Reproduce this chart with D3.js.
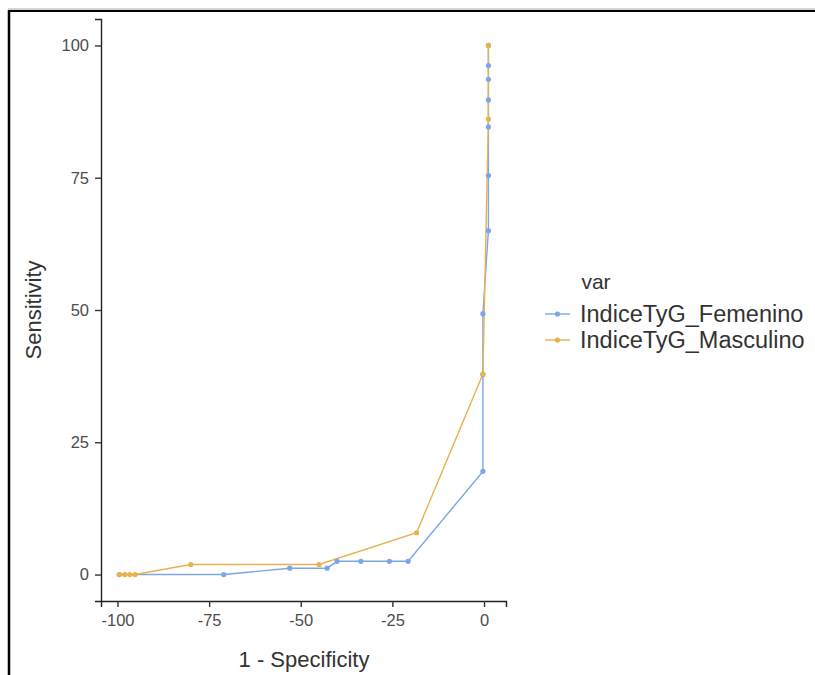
<!DOCTYPE html>
<html>
<head>
<meta charset="utf-8">
<script src="https://cdn.jsdelivr.net/npm/d3@7"></script>
<style>
	body { margin: 0; background: #fff; }
	svg { display: block; font-family: "Liberation Sans", Arial, sans-serif; }
</style>
</head>
<body>
<svg width="815" height="675"></svg>
<script>

// series names
var seriesNames = ["IndiceTyG_Femenino", "IndiceTyG_Masculino"];
var seriesColors = ["#7ba6e8", "#e8b24e"];

// Femenino: 1 - specificity, sensitivity
var femX = [-99.5, -71, -53, -42.8, -40.1, -33.6, -25.8, -20.7, -0.3, -0.3, -0.3, 1.2, 1.2, 1.2, 1.2, 1.2, 1.2, 1.2];
var femY = [0, 0, 1.2, 1.2, 2.5, 2.5, 2.5, 2.5, 19.5, 37.8, 49.3, 65, 75.4, 84.6, 89.7, 93.6, 96.2, 100];

// Masculino
var masX = [-99.5, -98, -96.6, -95.2, -80, -45, -18.4, -0.3, 1.2, 1.2];
var masY = [0, 0, 0, 0, 1.9, 1.9, 7.9, 37.9, 86.1, 100];

var xTicks = [-100, -75, -50, -25, 0];
var yTicks = [0, 25, 50, 75, 100];

var svg = d3.select("svg");

// frame from the screenshot
svg.append("line").attr("x1", 8).attr("x2", 815).attr("y1", 9).attr("y2", 9)
	.attr("stroke", "#aaa").attr("stroke-width", 1);
svg.append("line").attr("x1", 8).attr("x2", 815).attr("y1", 11).attr("y2", 11)
	.attr("stroke", "#000").attr("stroke-width", 2);
svg.append("line").attr("x1", 9).attr("x2", 9).attr("y1", 10).attr("y2", 675)
	.attr("stroke", "#000").attr("stroke-width", 2.5);

var x = d3.scaleLinear().domain([-104.5, 6]).range([101, 506]);
var y = d3.scaleLinear().domain([-5, 105]).range([601, 19]);

var data = [
	femX.map(function (d, i) { return {x: d, y: femY[i]}; }),
	masX.map(function (d, i) { return {x: d, y: masY[i]}; })
];

// axes
var fmt = function (d) { return String(d); };
var xAxis = svg.append("g")
	.attr("transform", "translate(0,601)")
	.call(d3.axisBottom(x).tickValues(xTicks).tickFormat(fmt).tickSize(6).tickPadding(7));
var yAxis = svg.append("g")
	.attr("transform", "translate(101,0)")
	.call(d3.axisLeft(y).tickValues(yTicks).tickFormat(fmt).tickSize(6).tickPadding(6));

[xAxis, yAxis].forEach(function (a) {
	a.select(".domain").attr("stroke", "#222").attr("stroke-width", 1.4);
	a.selectAll(".tick line").attr("stroke", "#333").attr("stroke-width", 1.4);
	a.selectAll(".tick text").attr("fill", "#4d4d4d").style("font-size", "16.5px");
});

svg.append("text")
	.attr("x", 304).attr("y", 667)
	.attr("text-anchor", "middle")
	.attr("fill", "#333")
	.style("font-size", "22px")
	.text("1 - Specificity");

svg.append("text")
	.attr("transform", "translate(41,310) rotate(-90)")
	.attr("text-anchor", "middle")
	.attr("fill", "#333")
	.style("font-size", "22px")
	.text("Sensitivity");

var line = d3.line().x(function (d) { return x(d.x); }).y(function (d) { return y(d.y); });

// lines first, then points (like ggplot layers)
data.forEach(function (s, i) {
	svg.append("path").datum(s)
		.attr("fill", "none")
		.attr("stroke", seriesColors[i])
		.attr("stroke-width", 1.4)
		.attr("d", line);
});
data.forEach(function (s, i) {
	svg.append("g").selectAll("circle").data(s).enter().append("circle")
		.attr("cx", function (d) { return x(d.x); })
		.attr("cy", function (d) { return y(d.y); })
		.attr("r", 2.6)
		.attr("fill", seriesColors[i]);
});

// legend
var legend = svg.append("g");
legend.append("text")
	.attr("x", 596).attr("y", 289)
	.attr("text-anchor", "middle")
	.attr("fill", "#333")
	.style("font-size", "21px")
	.text("var");

seriesNames.forEach(function (name, i) {
	var ly = 314 + i * 26;
	legend.append("line")
		.attr("x1", 545).attr("x2", 570).attr("y1", ly).attr("y2", ly)
		.attr("stroke", seriesColors[i]).attr("stroke-width", 1.4);
	legend.append("circle")
		.attr("cx", 557.5).attr("cy", ly).attr("r", 2.6)
		.attr("fill", seriesColors[i]);
	legend.append("text")
		.attr("x", 580).attr("y", ly + 8)
		.attr("fill", "#333")
		.style("font-size", "23.5px")
		.text(name);
});
</script>
</body>
</html>
